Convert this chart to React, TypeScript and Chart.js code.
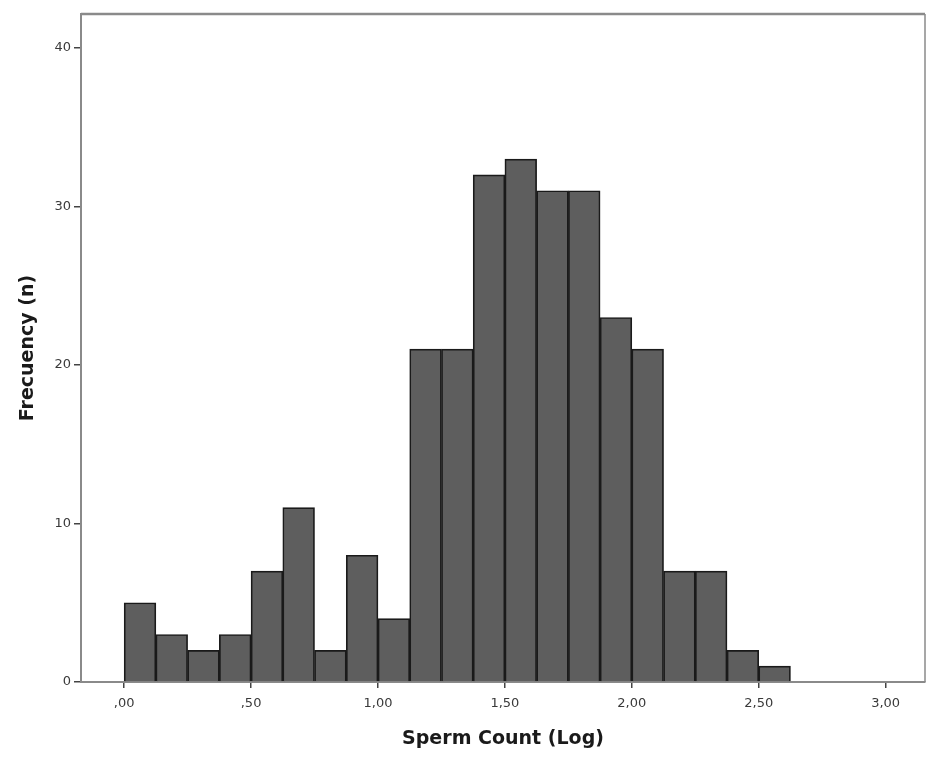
import React, { useEffect, useRef } from "react";
import { Chart, registerables } from "chart.js";

Chart.register(...registerables);

const binStarts = [0, 0.125, 0.25, 0.375, 0.5, 0.625, 0.75, 0.875, 1.0, 1.125, 1.25, 1.375, 1.5, 1.625, 1.75, 1.875, 2.0, 2.125, 2.25, 2.375, 2.5];
const frequencies = [5, 3, 2, 3, 7, 11, 2, 8, 4, 21, 21, 32, 33, 31, 31, 23, 21, 7, 7, 2, 1];
const binWidth = 0.125;
const xTickValues = [0, 0.5, 1.0, 1.5, 2.0, 2.5, 3.0];
const xTickLabels = [",00", ",50", "1,00", "1,50", "2,00", "2,50", "3,00"];
const yTickValues = [0, 10, 20, 30, 40];
const xTitle = "Sperm Count (Log)";
const yTitle = "Frecuency (n)";

const W = 926;
const H = 757;

const framePlugin = {
  id: "frame",
  afterDraw(chart: any) {
    const { ctx, chartArea } = chart;
    ctx.save();
    ctx.strokeStyle = "#8a8a8a";
    ctx.lineWidth = 2.5;
    ctx.beginPath();
    ctx.moveTo(chartArea.left, chartArea.top);
    ctx.lineTo(chartArea.right, chartArea.top);
    ctx.stroke();
    ctx.lineWidth = 1.5;
    ctx.beginPath();
    ctx.moveTo(chartArea.right, chartArea.top);
    ctx.lineTo(chartArea.right, chartArea.bottom);
    ctx.stroke();
    ctx.restore();
  },
};

export default function App() {
  const ref = useRef<HTMLCanvasElement | null>(null);
  useEffect(() => {
    if (!ref.current) return;
    const chart = new Chart(ref.current, {
      type: "bar",
      data: {
        datasets: [
          {
            data: binStarts.map((s, i) => ({ x: s + binWidth / 2, y: frequencies[i] })),
            backgroundColor: "#5e5e5e",
            borderColor: "#1a1a1a",
            borderWidth: 1.7,
            barPercentage: 1,
            categoryPercentage: 1,
          },
        ],
      },
      options: {
        responsive: false,
        animation: false,
        layout: { padding: { top: 14, right: 1, left: 0, bottom: 0 } },
        plugins: { legend: { display: false }, tooltip: { enabled: false } },
        scales: {
          x: {
            type: "linear",
            min: -0.17,
            max: 3.155,
            offset: false,
            z: 1,
            afterFit: (s: any) => {
              s.height = 75;
            },
            afterBuildTicks: (s: any) => {
              s.ticks = xTickValues.map((v) => ({ value: v }));
            },
            ticks: {
              autoSkip: false,
              maxRotation: 0,
              color: "#3a3a3a",
              padding: 8,
              font: { family: "DejaVu Sans", size: 13 },
              callback: (v: any) => {
                const i = xTickValues.indexOf(Number(v));
                return i >= 0 ? xTickLabels[i] : "";
              },
            },
            grid: { offset: false, drawOnChartArea: false, drawTicks: true, tickLength: 6, color: "#444", lineWidth: 1.5 },
            border: { color: "#8a8a8a", width: 2 },
            title: {
              display: true,
              text: xTitle,
              color: "#1a1a1a",
              font: { family: "DejaVu Sans", size: 19, weight: "bold" },
              padding: { top: 4, bottom: 7 },
            },
          },
          y: {
            type: "linear",
            min: 0,
            max: 42.15,
            z: 1,
            afterFit: (s: any) => {
              s.width = 81;
            },
            afterBuildTicks: (s: any) => {
              s.ticks = yTickValues.map((v) => ({ value: v }));
            },
            ticks: {
              color: "#3a3a3a",
              padding: 3,
              font: { family: "DejaVu Sans", size: 13 },
            },
            grid: { drawOnChartArea: false, drawTicks: true, tickLength: 7, color: "#444", lineWidth: 1.5 },
            border: { color: "#8a8a8a", width: 2 },
            title: {
              display: true,
              text: yTitle,
              color: "#1a1a1a",
              font: { family: "DejaVu Sans", size: 19, weight: "bold" },
              padding: { top: 17, bottom: 17 },
            },
          },
        },
      },
      plugins: [framePlugin],
    } as any);
    return () => chart.destroy();
  }, []);
  return (
    <div style={{ position: "absolute", left: 0, top: 0, width: W, height: H, background: "#fff" }}>
      <canvas ref={ref} width={W} height={H} style={{ width: W, height: H, display: "block" }} />
    </div>
  );
}
